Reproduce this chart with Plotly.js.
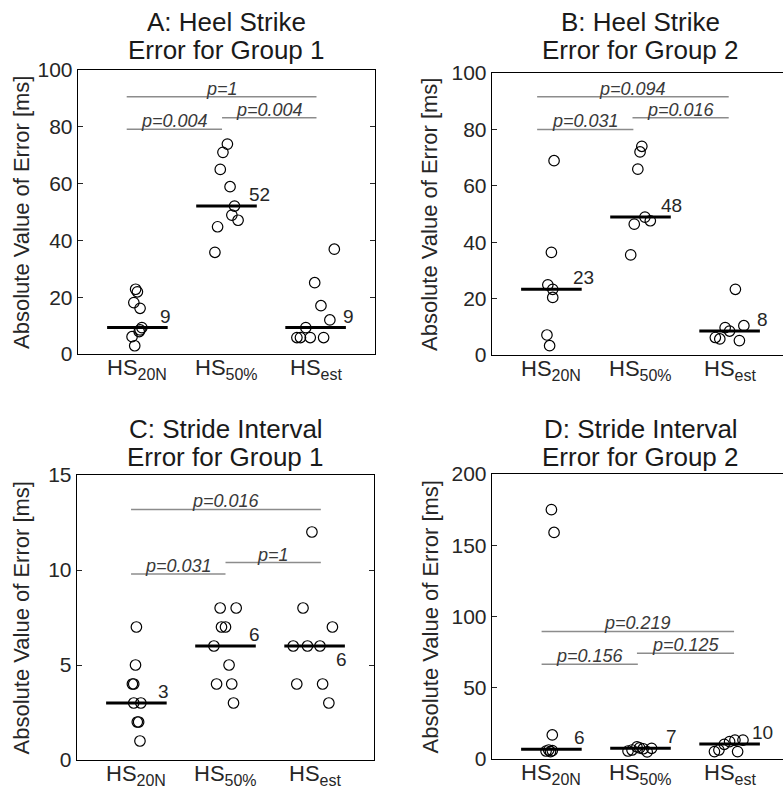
<!DOCTYPE html>
<html>
<head>
<meta charset="utf-8">
<script src="https://cdn.plot.ly/plotly-3.0.1.min.js"></script>
<style>
html,body{margin:0;padding:0;overflow:hidden;background:#fff;}
#chart{width:800px;height:788px;}
</style>
</head>
<body>
<div id="chart"></div>
<script>
// ---------------- DATA ----------------
const catBase = ['HS', 'HS', 'HS'];
const catSub = ['20N', '50%', 'est'];
const panelTitles1 = ['A: Heel Strike', 'B: Heel Strike', 'C: Stride Interval', 'D: Stride Interval'];
const panelTitles2 = ['Error for Group 1', 'Error for Group 2', 'Error for Group 1', 'Error for Group 2'];
const yTitle = 'Absolute Value of Error [ms]';

// Panel A
const A_20N = [22.8, 21.9, 18.1, 16.1, 9.3, 8.5, 7.9, 6.1, 2.9];
const A_20N_jit = [-0.02, 0.00, -0.04, 0.03, 0.05, 0.03, 0.02, -0.06, -0.03];
const A_50 = [73.9, 71.0, 65.0, 58.9, 52.1, 48.9, 47.1, 44.8, 35.8];
const A_50_jit = [0.01, -0.04, -0.07, 0.04, 0.09, 0.06, 0.13, -0.10, -0.13];
const A_est = [36.9, 25.1, 17.0, 12.0, 9.3, 5.8, 5.8, 5.8, 5.8];
const A_est_jit = [0.21, -0.01, 0.06, 0.16, -0.11, -0.21, -0.17, -0.06, 0.09];
const A_med = [9.3, 52.1, 9.3];
const A_medLbl = ['9', '52', '9'];
const A_pText = ['p=0.004', 'p=0.004', 'p=1'];
const A_pY = [79.1, 83.2, 90.6];
const A_pX0 = [0.88, 1.95, 0.88];
const A_pX1 = [1.95, 3.01, 3.01];

// Panel B
const B_20N = [68.9, 36.4, 24.9, 23.3, 20.4, 7.1, 3.3];
const B_20N_jit = [0.03, 0.00, -0.04, 0.015, 0.015, -0.05, -0.02];
const B_50 = [74.0, 72.0, 65.9, 48.9, 47.6, 46.4, 35.5];
const B_50_jit = [0.015, -0.005, -0.03, 0.05, 0.11, -0.07, -0.11];
const B_est = [23.3, 10.4, 9.7, 8.5, 6.2, 5.7, 5.1];
const B_est_jit = [0.065, 0.16, -0.05, 0.00, -0.16, -0.11, 0.11];
const B_med = [23.3, 48.9, 8.5];
const B_medLbl = ['23', '48', '8'];
const B_pText = ['p=0.031', 'p=0.016', 'p=0.094'];
const B_pY = [80.0, 84.1, 91.6];
const B_pX0 = [0.84, 1.91, 0.84];
const B_pX1 = [1.92, 2.99, 2.99];

// Panel C
const C_20N = [7, 5, 4, 4, 3, 3, 2, 2, 1];
const C_20N_jit = [0.00, -0.01, -0.045, -0.03, -0.03, 0.05, 0.01, 0.025, 0.04];
const C_50 = [8, 8, 7, 7, 6, 5, 4, 4, 3];
const C_50_jit = [-0.06, 0.12, -0.045, 0.00, -0.13, 0.04, -0.10, 0.07, 0.09];
const C_est = [12, 8, 7, 6, 6, 6, 4, 4, 3];
const C_est_jit = [-0.03, -0.13, 0.20, -0.24, -0.08, 0.06, -0.20, 0.09, 0.16];
const C_med = [3, 6, 6];
const C_medLbl = ['3', '6', '6'];
const C_pText = ['p=0.031', 'p=1', 'p=0.016'];
const C_pY = [9.79, 10.39, 13.19];
const C_pX0 = [0.94, 2.00, 0.94];
const C_pX1 = [2.00, 3.07, 3.07];

// Panel D
const D_20N = [175, 159, 16.9, 5.6, 6.3, 5.2, 5.9];
const D_20N_jit = [0.00, 0.03, 0.01, -0.06, -0.03, -0.01, 0.01];
const D_50 = [5.6, 6.3, 8.5, 7.8, 7.2, 5.0, 7.5];
const D_50_jit = [-0.14, -0.095, -0.04, -0.01, 0.03, 0.075, 0.125];
const D_est = [5.2, 6.3, 10.3, 12.2, 13.3, 13.3, 5.2];
const D_est_jit = [-0.17, -0.12, -0.06, 0.00, 0.06, 0.15, 0.09];
const D_med = [6.8, 7.5, 10.5];
const D_medLbl = ['6', '7', '10'];
const D_pText = ['p=0.156', 'p=0.125', 'p=0.219'];
const D_pY = [66.5, 74.2, 89.5];
const D_pX0 = [0.89, 1.96, 0.89];
const D_pX1 = [1.97, 3.05, 3.05];

// ---------------- STYLE / LAYOUT ----------------
const W = 800, H = 788;
const FONT = 'Liberation Sans, Arial, Helvetica, sans-serif';
const panels = [
  {vals: [A_20N, A_50, A_est], jit: [A_20N_jit, A_50_jit, A_est_jit], med: A_med, lbl: A_medLbl,
   pT: A_pText, pY: A_pY, pX0: A_pX0, pX1: A_pX1,
   px: [78, 375], py: [70, 354], yr: [0, 100], dt: 20, lblDx: [0.23, 0.23, 0.28], lblBelow: [false, false, false]},
  {vals: [B_20N, B_50, B_est], jit: [B_20N_jit, B_50_jit, B_est_jit], med: B_med, lbl: B_medLbl,
   pT: B_pText, pY: B_pY, pX0: B_pX0, pX1: B_pX1,
   px: [492, 789], py: [73, 355], yr: [0, 100], dt: 20, lblDx: [0.22, 0.21, 0.29], lblBelow: [false, false, false]},
  {vals: [C_20N, C_50, C_est], jit: [C_20N_jit, C_50_jit, C_est_jit], med: C_med, lbl: C_medLbl,
   pT: C_pText, pY: C_pY, pX0: C_pX0, pX1: C_pX1,
   px: [77, 374], py: [475, 760], yr: [0, 15], dt: 5, lblDx: [0.22, 0.24, 0.22], lblBelow: [false, false, true]},
  {vals: [D_20N, D_50, D_est], jit: [D_20N_jit, D_50_jit, D_est_jit], med: D_med, lbl: D_medLbl,
   pT: D_pText, pY: D_pY, pX0: D_pX0, pX1: D_pX1,
   px: [492, 789], py: [474, 759], yr: [0, 200], dt: 50, lblDx: [0.235, 0.26, 0.23], lblBelow: [false, false, false]}
];
const titleY = [[22, 50], [22, 50], [429, 457], [429, 457]];
const yTitleX = [21, 430, 21, 430];

const traces = [];
const annotations = [];
const layout = {
  width: W, height: H,
  margin: {l: 0, r: 0, t: 0, b: 0},
  paper_bgcolor: '#fff', plot_bgcolor: '#fff',
  showlegend: false,
  font: {family: FONT, color: '#262626'},
  annotations: annotations
};

panels.forEach((p, i) => {
  const n = i === 0 ? '' : String(i + 1);
  const xa = 'x' + n, ya = 'y' + n;
  const ticks = [];
  for (let v = p.yr[0]; v <= p.yr[1] + 1e-9; v += p.dt) ticks.push(v);
  layout['xaxis' + n] = {
    domain: [p.px[0] / W, p.px[1] / W], range: [1 / 3, 11 / 3], anchor: ya,
    showticklabels: false, ticks: '',
    showline: true, mirror: true, linecolor: '#000', linewidth: 1.3,
    showgrid: false, zeroline: false, fixedrange: true
  };
  layout['yaxis' + n] = {
    domain: [(H - p.py[1]) / H, (H - p.py[0]) / H], range: p.yr, anchor: xa,
    tickvals: ticks, ticks: 'inside', ticklen: 5, tickcolor: '#262626', tickwidth: 1,
    showline: true, mirror: 'ticks', linecolor: '#000', linewidth: 1.3,
    showgrid: false, zeroline: false, fixedrange: true,
    tickfont: {family: FONT, size: 21, color: '#262626'}
  };
  // category labels (as annotations to sit close to the axis)
  catBase.forEach((b, c) => {
    annotations.push({
      xref: xa, yref: 'paper', x: c + 1, y: (H - p.py[1]) / H,
      xanchor: 'center', yanchor: 'top', yshift: 1, showarrow: false,
      text: b + '<sub><span style="font-size:16px">' + catSub[c] + '</span></sub>',
      font: {family: FONT, size: 22, color: '#262626'}
    });
  });
  // points
  p.vals.forEach((arr, c) => {
    traces.push({
      type: 'scatter', mode: 'markers', xaxis: xa, yaxis: ya, cliponaxis: false,
      x: arr.map((v, k) => c + 1 + p.jit[c][k]), y: arr,
      marker: {symbol: 'circle-open', size: 10.5, color: '#000', line: {width: 1.2, color: '#000'}},
      hoverinfo: 'skip'
    });
    traces.push({
      type: 'scatter', mode: 'lines', xaxis: xa, yaxis: ya,
      x: [c + 1 - 0.34, c + 1 + 0.34], y: [p.med[c], p.med[c]],
      line: {color: '#000', width: 3}, hoverinfo: 'skip'
    });
    annotations.push({
      xref: xa, yref: ya, x: c + 1 + p.lblDx[c], y: p.med[c],
      xanchor: 'left', yanchor: p.lblBelow[c] ? 'top' : 'bottom',
      yshift: -1,
      text: p.lbl[c], showarrow: false,
      font: {family: FONT, size: 19, color: '#262626'}
    });
  });
  // p-value bars
  p.pT.forEach((t, k) => {
    traces.push({
      type: 'scatter', mode: 'lines', xaxis: xa, yaxis: ya,
      x: [p.pX0[k], p.pX1[k]], y: [p.pY[k], p.pY[k]],
      line: {color: '#8c8c8c', width: 1.5}, hoverinfo: 'skip'
    });
    annotations.push({
      xref: xa, yref: ya, x: (p.pX0[k] + p.pX1[k]) / 2, y: p.pY[k],
      xanchor: 'center', yanchor: 'bottom', yshift: -4,
      text: '<i>' + t + '</i>', showarrow: false,
      font: {family: FONT, size: 18, color: '#3a3a3a'}
    });
  });
  // titles
  const cx = (p.px[0] + p.px[1]) / 2 / W;
  annotations.push({xref: 'paper', yref: 'paper', x: cx, y: (H - titleY[i][0]) / H,
    xanchor: 'center', yanchor: 'middle', text: panelTitles1[i], showarrow: false,
    font: {family: FONT, size: 26, color: '#1a1a1a'}});
  annotations.push({xref: 'paper', yref: 'paper', x: cx, y: (H - titleY[i][1]) / H,
    xanchor: 'center', yanchor: 'middle', text: panelTitles2[i], showarrow: false,
    font: {family: FONT, size: 26, color: '#1a1a1a'}});
  annotations.push({xref: 'paper', yref: 'paper', x: yTitleX[i] / W, y: (H - (p.py[0] + p.py[1]) / 2) / H,
    xanchor: 'center', yanchor: 'middle', textangle: -90, text: yTitle, showarrow: false,
    font: {family: FONT, size: 22, color: '#262626'}});
});

Plotly.newPlot('chart', traces, layout, {staticPlot: true, displayModeBar: false});
</script>
</body>
</html>
